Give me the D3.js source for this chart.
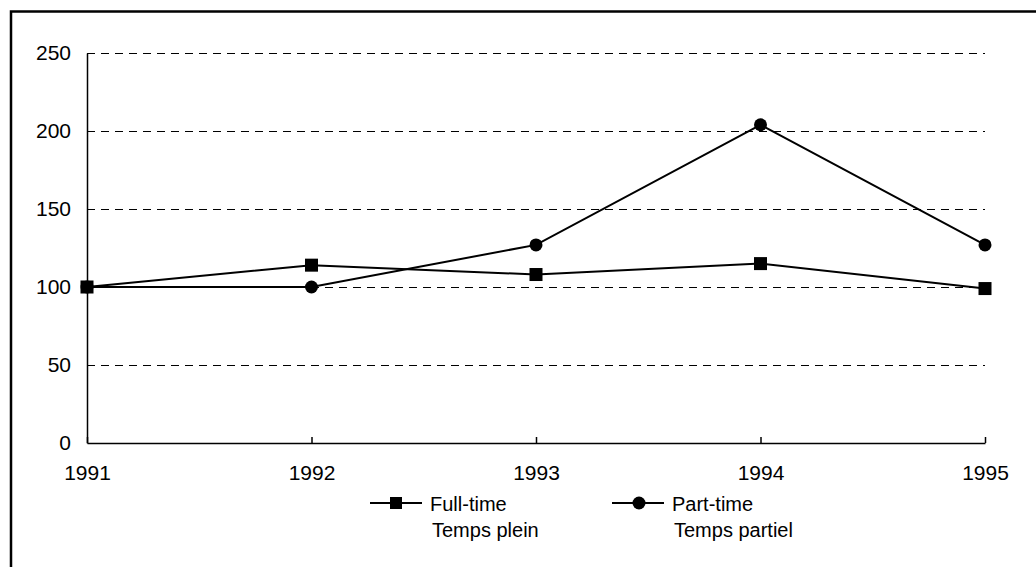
<!DOCTYPE html>
<html>
<head>
<meta charset="utf-8">
<script src="https://cdn.jsdelivr.net/npm/d3@7"></script>
<style>
  body { margin: 0; background: #fff; }
  text { font-family: "Liberation Sans", Arial, sans-serif; fill: #000; }
</style>
</head>
<body>
<div id="chart"></div>
<script>
const years = [1991, 1992, 1993, 1994, 1995];
const fullTime = [100, 114, 108, 115, 99];
const partTime = [100, 100, 127, 204, 127];
const yTicks = [0, 50, 100, 150, 200, 250];
const seriesNames = [["Full-time", "Temps plein"], ["Part-time", "Temps partiel"]];

const width = 1036, height = 567;
const margin = {top: 53, right: 51, bottom: 124, left: 87};

const svg = d3.select('#chart').append('svg')
    .attr('width', width)
    .attr('height', height);

// outer frame (runs past the bottom and right edge)
svg.append('rect')
    .attr('x', 11).attr('y', 11.5)
    .attr('width', 1100).attr('height', 700)
    .attr('fill', 'none')
    .attr('stroke', '#000')
    .attr('stroke-width', 2.5);

const x = d3.scaleLinear()
    .domain([1991, 1995])
    .range([margin.left, width - margin.right]);

const y = d3.scaleLinear()
    .domain([0, 250])
    .range([height - margin.bottom, margin.top]);

// gridlines
svg.append('g')
    .attr('shape-rendering', 'crispEdges')
  .selectAll('line')
  .data(yTicks.filter(d => d > 0))
  .join('line')
    .attr('x1', x(1991)).attr('x2', x(1995))
    .attr('y1', d => y(d) + 0.5).attr('y2', d => y(d) + 0.5)
    .attr('stroke', '#000')
    .attr('stroke-width', 1)
    .attr('stroke-dasharray', '8,6');

// y axis
const yAxis = svg.append('g')
    .attr('transform', `translate(${x(1991)},0)`)
    .call(d3.axisLeft(y).tickValues(yTicks).tickSize(0).tickPadding(16));
yAxis.select('.domain').attr('stroke-width', 1.5);
yAxis.selectAll('text').attr('font-size', 21).style('font-family', '"Liberation Sans", Arial, sans-serif');

// x axis
const xAxis = svg.append('g')
    .attr('transform', `translate(0,${y(0)})`)
    .call(d3.axisBottom(x).tickValues(years).tickFormat(d3.format('d')).tickSizeInner(-6).tickSizeOuter(0).tickPadding(22));
xAxis.select('.domain').attr('stroke-width', 1.5);
xAxis.selectAll('.tick line').attr('stroke-width', 1.5);
xAxis.selectAll('text').attr('font-size', 21).style('font-family', '"Liberation Sans", Arial, sans-serif');

const line = d3.line()
    .x((d, i) => x(years[i]))
    .y(d => y(d));

// series lines
[fullTime, partTime].forEach(vals => {
  svg.append('path')
      .datum(vals)
      .attr('fill', 'none')
      .attr('stroke', '#000')
      .attr('stroke-width', 2)
      .attr('d', line);
});

// markers
svg.append('g').selectAll('rect')
    .data(fullTime)
  .join('rect')
    .attr('x', (d, i) => x(years[i]) - 6.5)
    .attr('y', d => y(d) - 6.5)
    .attr('width', 13).attr('height', 13)
    .attr('fill', '#000');

svg.append('g').selectAll('circle')
    .data(partTime)
  .join('circle')
    .attr('cx', (d, i) => x(years[i]))
    .attr('cy', d => y(d))
    .attr('r', 6.5)
    .attr('fill', '#000');

// legend
const legendX = [370, 612];
const legend = svg.append('g');
seriesNames.forEach((names, i) => {
  const g = legend.append('g').attr('transform', `translate(${legendX[i]},503)`);
  g.append('line')
      .attr('x1', 0).attr('x2', 52)
      .attr('stroke', '#000').attr('stroke-width', 2);
  if (i === 0) {
    g.append('rect').attr('x', 26 - 6).attr('y', -6).attr('width', 12).attr('height', 12).attr('fill', '#000');
  } else {
    g.append('circle').attr('cx', 27).attr('r', 6.5).attr('fill', '#000');
  }
  g.append('text')
      .attr('x', 60).attr('y', 8)
      .attr('font-size', 20)
      .text(names[0]);
  g.append('text')
      .attr('x', 62).attr('y', 34)
      .attr('font-size', 20)
      .text(names[1]);
});
</script>
</body>
</html>
